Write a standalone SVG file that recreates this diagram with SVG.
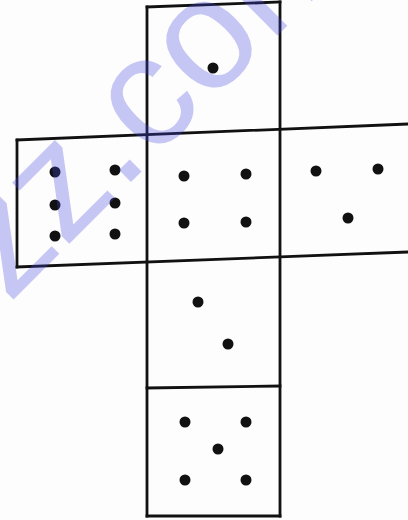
<svg xmlns="http://www.w3.org/2000/svg" width="408" height="520" viewBox="0 0 408 520">
<style>
.wm{font-family:"Liberation Sans",Arial,sans-serif;font-size:158px;fill:#4848e0;fill-opacity:0.3;}
.ln{stroke:#111;stroke-width:2.8;fill:none;stroke-linecap:square;}
.dot{fill:#111;}
</style>
<rect width="408" height="520" fill="#fdfdfd"/>
<g id="connectors">
<path class="ln" d="M147,7 L280,2"/>
<path class="ln" d="M147,7 L147,516"/>
<path class="ln" d="M280,2 L280,516"/>
<path class="ln" d="M17,140 L408,124"/>
<path class="ln" d="M17,140 L17,267"/>
<path class="ln" d="M17,267 L408,252"/>
<path class="ln" d="M147,388 L280,386"/>
<path class="ln" d="M147,516 L280,516"/>
</g>
<g id="face-top">
<circle class="dot" cx="213" cy="68" r="5.5"/>
</g>
<g id="face-left">
<circle class="dot" cx="55" cy="172" r="5.5"/>
<circle class="dot" cx="115" cy="170" r="5.5"/>
<circle class="dot" cx="55" cy="205" r="5.5"/>
<circle class="dot" cx="115" cy="203" r="5.5"/>
<circle class="dot" cx="55" cy="236" r="5.5"/>
<circle class="dot" cx="115" cy="234" r="5.5"/>
</g>
<g id="face-center">
<circle class="dot" cx="184" cy="176" r="5.5"/>
<circle class="dot" cx="246" cy="174" r="5.5"/>
<circle class="dot" cx="184" cy="223" r="5.5"/>
<circle class="dot" cx="246" cy="222" r="5.5"/>
</g>
<g id="face-right">
<circle class="dot" cx="316" cy="171" r="5.5"/>
<circle class="dot" cx="378" cy="169" r="5.5"/>
<circle class="dot" cx="348" cy="218" r="5.5"/>
</g>
<g id="face-lower">
<circle class="dot" cx="198" cy="302" r="5.5"/>
<circle class="dot" cx="228" cy="344" r="5.5"/>
</g>
<g id="face-bottom">
<circle class="dot" cx="185" cy="422" r="5.5"/>
<circle class="dot" cx="246" cy="422" r="5.5"/>
<circle class="dot" cx="218" cy="449" r="5.5"/>
<circle class="dot" cx="185" cy="480" r="5.5"/>
<circle class="dot" cx="246" cy="480" r="5.5"/>
</g>
<text class="wm" transform="translate(9,304) rotate(-45)">zz.com</text>
</svg>
